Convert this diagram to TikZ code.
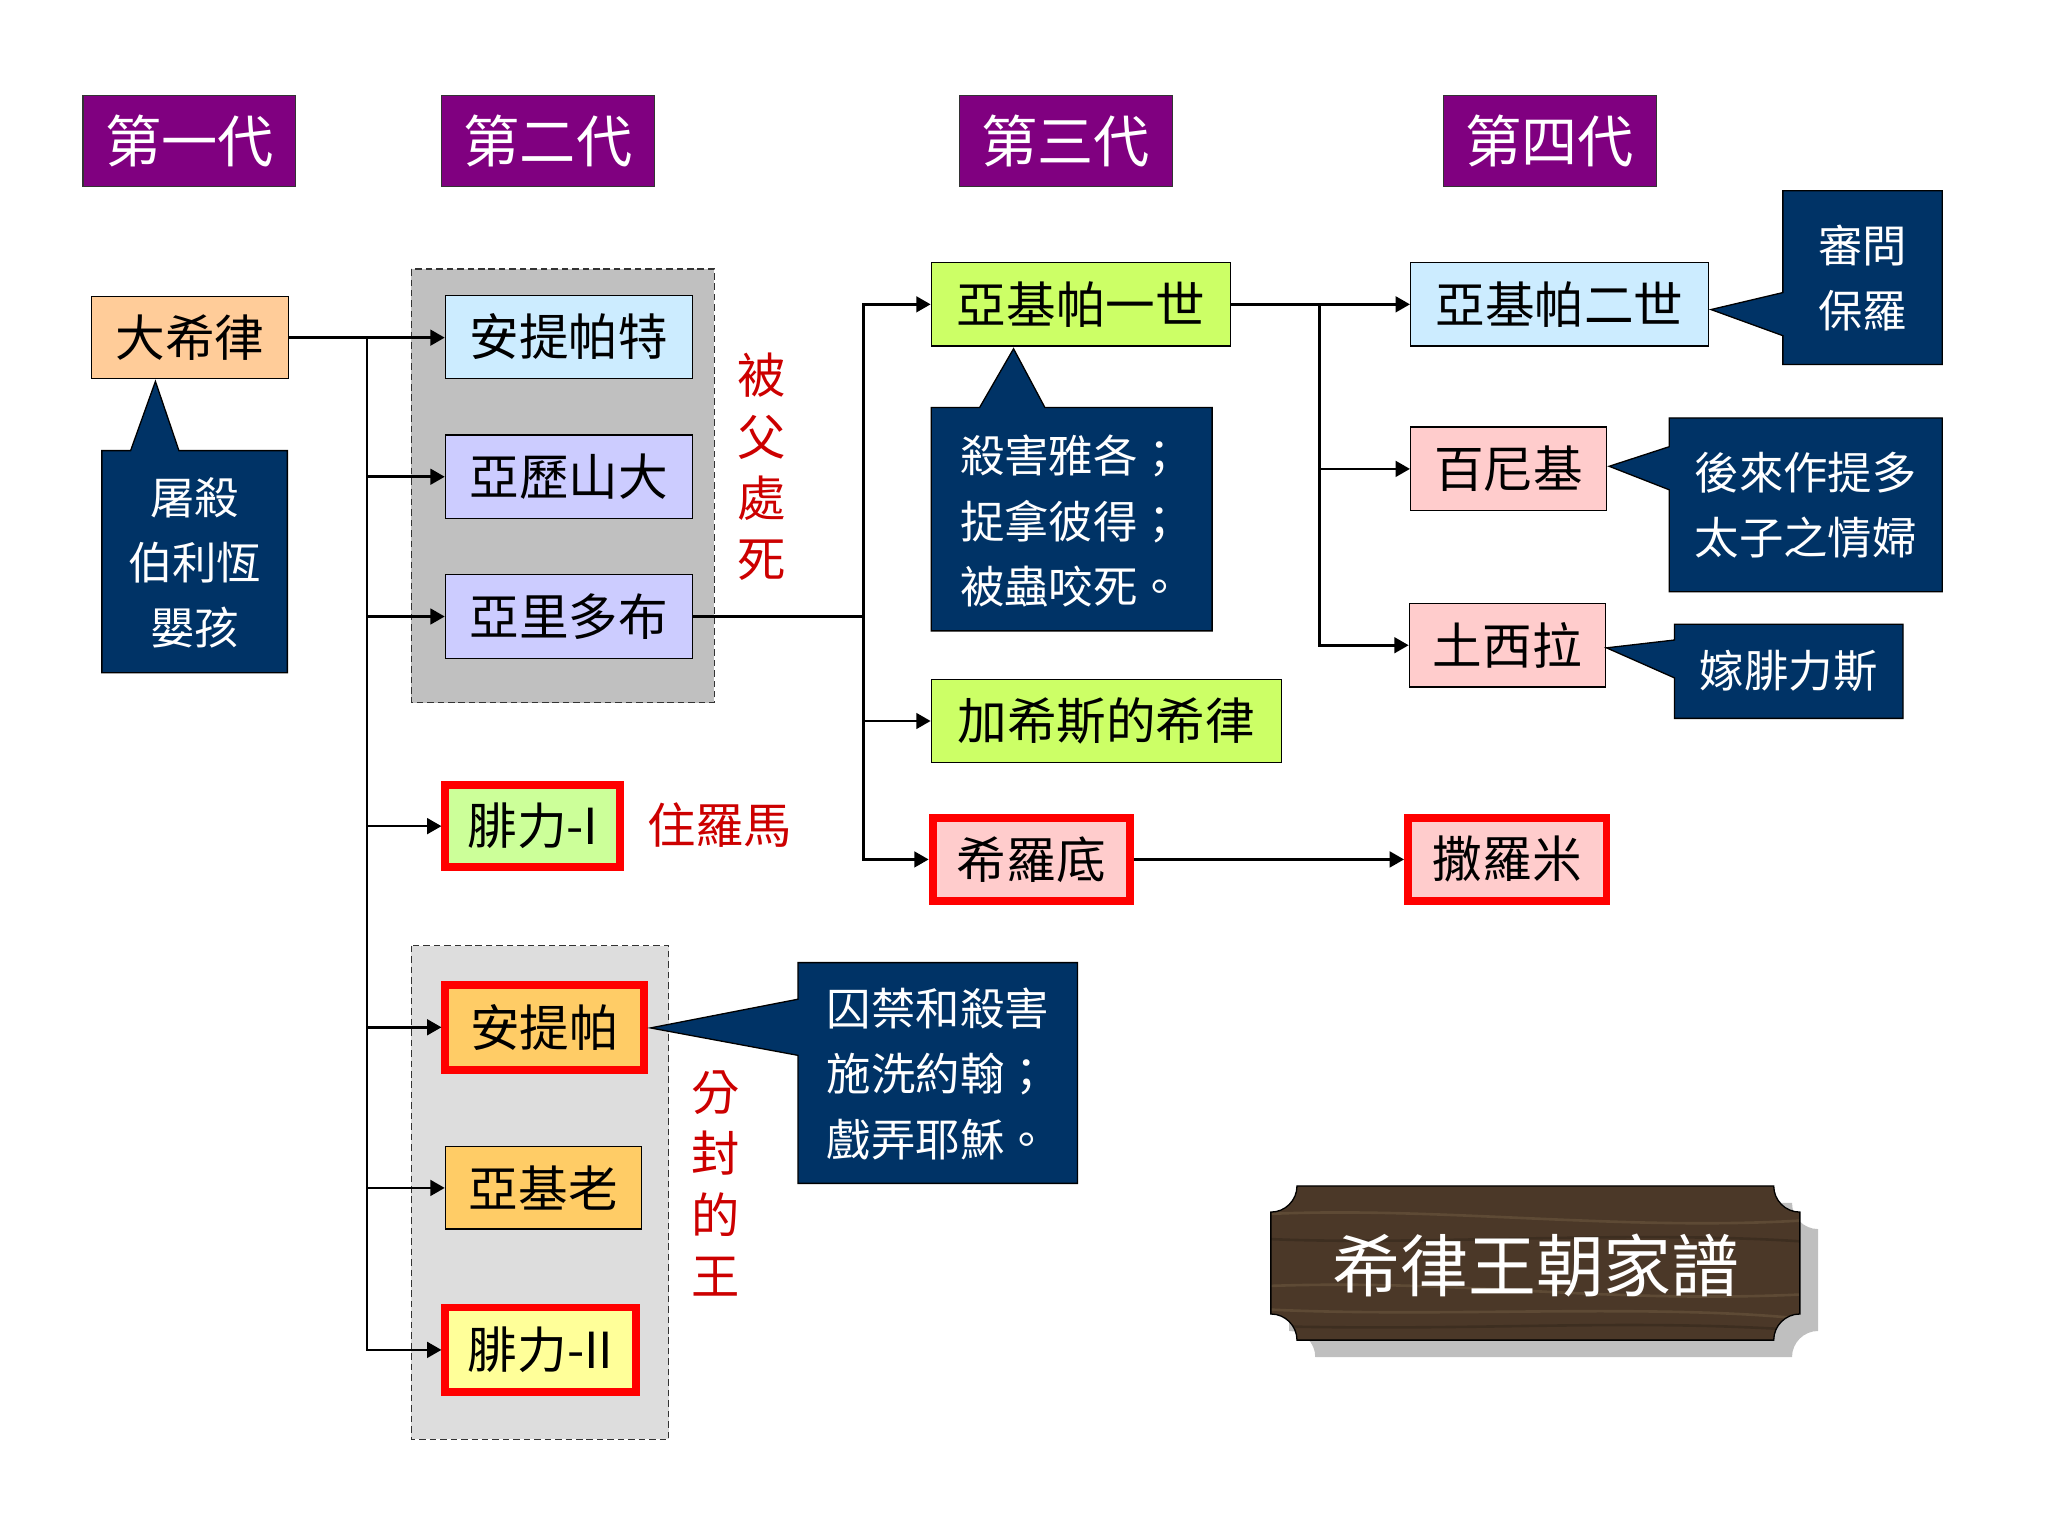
\documentclass[tikz,border=0pt]{standalone}
\usepackage{fontspec}
\setmainfont{Noto Sans CJK TC}
\usetikzlibrary{arrows.meta}

\definecolor{hdpurple}{HTML}{800080}
\definecolor{navy}{HTML}{003366}
\definecolor{peach}{HTML}{FFCC99}
\definecolor{skyblue}{HTML}{CCECFF}
\definecolor{lavender}{HTML}{CCCCFF}
\definecolor{lime}{HTML}{CCFF66}
\definecolor{palegreen}{HTML}{CCFF99}
\definecolor{rosepink}{HTML}{FFCCCC}
\definecolor{apricot}{HTML}{FFCC66}
\definecolor{paleyellow}{HTML}{FFFF99}
\definecolor{groupgray}{HTML}{C0C0C0}
\definecolor{grouplight}{HTML}{DDDDDD}
\definecolor{kingred}{HTML}{FF0000}
\definecolor{notered}{HTML}{CC0000}
\definecolor{wood}{HTML}{4B3828}
\definecolor{woodlight}{HTML}{6E5A40}
\definecolor{wooddark}{HTML}{33261B}

\newcommand{\hdfont}{\fontsize{43}{50}\selectfont}
\newcommand{\namefont}{\fontsize{38}{46}\selectfont}
\newcommand{\notefont}{\fontsize{34}{50}\selectfont}
\newcommand{\redfont}{\fontsize{37}{47}\selectfont}
\newcommand{\plaquefont}{\fontsize{52}{60}\selectfont}

\tikzset{
    gen/.style={fill=hdpurple, draw=black!80, line width=1pt, text=white, font=\hdfont,
        minimum width=163, minimum height=70, inner sep=0},
    person/.style={draw=black, line width=1pt, font=\namefont, minimum height=64, inner sep=0},
    ruler/.style={person, draw=kingred, line width=6pt},
    group/.style={draw=black!80, dashed, line width=1pt, dash pattern=on 5pt off 3pt},
    line/.style={line width=2pt},
    arr/.style={line, -{Triangle[length=11pt,width=12pt]}},
    callout/.style={fill=navy, draw=black, line width=1pt},
    note/.style={text=white, font=\notefont, inner sep=0},
    redtext/.style={text=notered, font=\redfont, align=center, inner sep=0},
    plaque path/.style={insert path={(993,908) -- (1358,908) .. controls (1358,919) and (1367,928) .. (1378,928)
        -- (1378,1006) .. controls (1367,1006) and (1358,1015) .. (1358,1026)
        -- (993,1026) .. controls (993,1015) and (984,1006) .. (973,1006)
        -- (973,928) .. controls (984,928) and (993,919) .. (993,908) -- cycle}},
    streak/.style={line width=2pt, opacity=0.55},
}

\begin{document}
\begin{tikzpicture}[x=1pt,y=-1pt]
\useasboundingbox (0,0) rectangle (1568,1176);

% generations
\node[gen] (gen1) at (145,108) {第一代};
\node[gen] (gen2) at (419.5,108) {第二代};
\node[gen] (gen3) at (816,108) {第三代};
\node[gen] (gen4) at (1186.5,108) {第四代};

% sons of Herod, grouped
\draw[group, fill=groupgray] (315,206) rectangle (547,538);
\draw[group, fill=grouplight] (315,724) rectangle (512,1102);

% family
\node[person, fill=peach, minimum width=151, minimum height=63] (herod) at (145.5,258.5) {大希律};
\node[person, fill=skyblue, minimum width=189] (antipater) at (435.5,258) {安提帕特};
\node[person, fill=lavender, minimum width=189] (alexander) at (435.5,365) {亞歷山大};
\node[person, fill=lavender, minimum width=189] (aristobulus) at (435.5,472) {亞里多布};
\node[ruler, fill=palegreen, minimum width=134, minimum height=63] (philip1) at (408,632.5) {腓力-I};
\node[ruler, fill=apricot, minimum width=152, minimum height=65] (antipas) at (417,786.5) {安提帕};
\node[person, fill=apricot, minimum width=150, minimum height=63] (archelaus) at (416,909.5) {亞基老};
\node[ruler, fill=paleyellow, minimum width=146, minimum height=65] (philip2) at (414,1033.5) {腓力-II};
\node[person, fill=lime, minimum width=229] (agrippa1) at (827.5,233) {亞基帕一世};
\node[person, fill=lime, minimum width=268] (chalcis) at (847,552) {加希斯的希律};
\node[ruler, fill=rosepink, minimum width=151] (herodias) at (789.5,658) {希羅底};
\node[ruler, fill=rosepink, minimum width=152] (salome) at (1154,658) {撒羅米};
\node[person, fill=skyblue, minimum width=228] (agrippa2) at (1194,233) {亞基帕二世};
\node[person, fill=rosepink, minimum width=150] (bernice) at (1155,359) {百尼基};
\node[person, fill=rosepink, minimum width=150] (drusilla) at (1154,494) {土西拉};

% lines of descent
\coordinate (trunk) at (281,258.5);
\draw[arr] (herod.east) -- (herod.east -| antipater.west);
\foreach \kid in {alexander,aristobulus,philip1,antipas,archelaus,philip2}
    \draw[arr] (trunk) |- (\kid.west);
\coordinate (fork2) at (661,472);
\draw[line] (aristobulus.east) -- (fork2);
\foreach \kid in {agrippa1,chalcis,herodias}
    \draw[arr] (fork2) |- (\kid.west);
\coordinate (fork3) at (1010,233);
\draw[arr] (agrippa1.east) -- (agrippa2.west);
\foreach \kid in {bernice,drusilla}
    \draw[arr] (fork3) |- (\kid.west);
\draw[arr] (herodias.east) -- (salome.west);

% callouts
\draw[callout] (78,345) -- (100,345) -- (119,292) -- (137,345) -- (220,345) -- (220,515) -- (78,515) -- cycle;
\node[note, align=center] (massacre) at (149,431) {屠殺\\伯利恆\\嬰孩};
\draw[callout] (713,312) -- (750,312) -- (776,267) -- (800,312) -- (928,312) -- (928,483) -- (713,483) -- cycle;
\node[note, align=left] (deeds1) at (820,399) {殺害雅各；\\捉拿彼得；\\被蟲咬死。};
\draw[callout] (1365,146) -- (1487,146) -- (1487,279) -- (1365,279) -- (1365,257) -- (1310,237) -- (1365,224) -- cycle;
\node[note, align=center] (paul) at (1426,213) {審問\\保羅};
\draw[callout] (1278,320) -- (1487,320) -- (1487,453) -- (1278,453) -- (1278,375) -- (1232,357) -- (1278,342) -- cycle;
\node[note, align=center] (titus) at (1382.5,387) {後來作提多\\太子之情婦};
\draw[callout] (1282,478) -- (1457,478) -- (1457,550) -- (1282,550) -- (1282,519) -- (1230,496) -- (1282,490) -- cycle;
\node[note] (felix) at (1369.5,514) {嫁腓力斯};
\draw[callout] (611,737) -- (825,737) -- (825,906) -- (611,906) -- (611,808) -- (498,787) -- (611,765) -- cycle;
\node[note, align=left] (deeds2) at (718,822) {囚禁和殺害\\施洗約翰；\\戲弄耶穌。};

% red remarks
\node[redtext] (killed) at (583,357.5) {被\\父\\處\\死};
\node[redtext] (rome) at (551,632) {住羅馬};
\node[redtext] (tetrarchs) at (548,906) {分\\封\\的\\王};

% title plaque
\begin{scope}[shift={(14,13)}]
\fill[black!25, plaque path];
\end{scope}
\fill[wood, plaque path];
\begin{scope}
\clip[plaque path];
\draw[streak, woodlight] (960,930) .. controls (1100,922) and (1250,945) .. (1400,933);
\draw[streak, wooddark] (960,948) .. controls (1080,955) and (1260,940) .. (1400,952);
\draw[streak, woodlight] (960,985) .. controls (1120,978) and (1230,1000) .. (1400,990);
\draw[streak, woodlight] (960,1002) .. controls (1100,1010) and (1280,996) .. (1400,1012);
\draw[streak, wooddark] (960,1015) .. controls (1140,1020) and (1250,1008) .. (1400,1020);
\end{scope}
\draw[black, line width=1pt, plaque path];
\node[text=white, font=\plaquefont, inner sep=0] (title) at (1176,969) {希律王朝家譜};
\end{tikzpicture}
\end{document}
